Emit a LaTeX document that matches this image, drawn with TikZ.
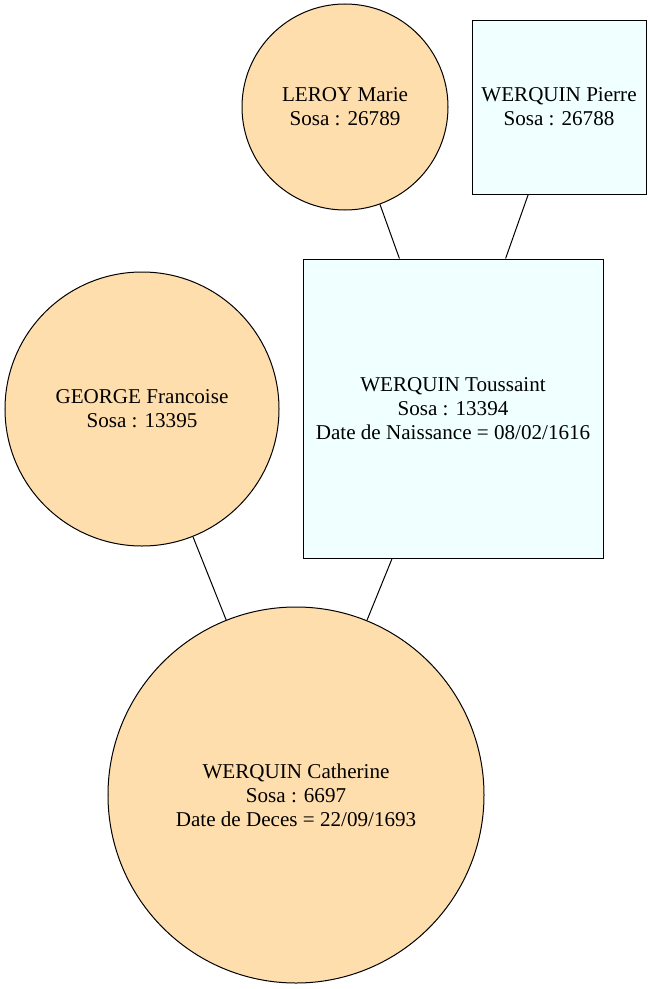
\documentclass[tikz,border=0pt]{standalone}
\usepackage{fontspec}
\setmainfont{Liberation Serif}
\begin{document}
\begin{tikzpicture}[x=1bp,y=-1bp,
  every node/.style={draw=black,line width=1bp,inner sep=0pt,align=center,font=\fontsize{21.1bp}{24bp}\selectfont},
  fem/.style={circle,fill=peach},
  man/.style={rectangle,fill=azure},
  link/.style={line width=1bp,draw=black}]
\definecolor{peach}{HTML}{FFDEAD}
\definecolor{azure}{HTML}{F0FFFF}
\useasboundingbox (0,0) rectangle (652,989);
\node[fem,minimum size=206bp] (marie) at (345,107) {LEROY Marie\\Sosa : 26789};
\node[man,minimum width=174bp,minimum height=174bp] (pierre) at (559,107) {WERQUIN Pierre\\Sosa : 26788};
\node[fem,minimum size=274bp] (francoise) at (142,409) {GEORGE Francoise\\Sosa : 13395};
\node[man,minimum width=300bp,minimum height=299bp] (toussaint) at (453,408.5) {WERQUIN Toussaint\\Sosa : 13394\\Date de Naissance = 08/02/1616};
\node[fem,minimum size=376bp] (catherine) at (296,795) {WERQUIN Catherine\\Sosa : 6697\\Date de Deces = 22/09/1693};
\draw[link] (marie) -- (toussaint);
\draw[link] (pierre) -- (toussaint);
\draw[link] (francoise) -- (catherine);
\draw[link] (toussaint) -- (catherine);
\end{tikzpicture}
\end{document}
